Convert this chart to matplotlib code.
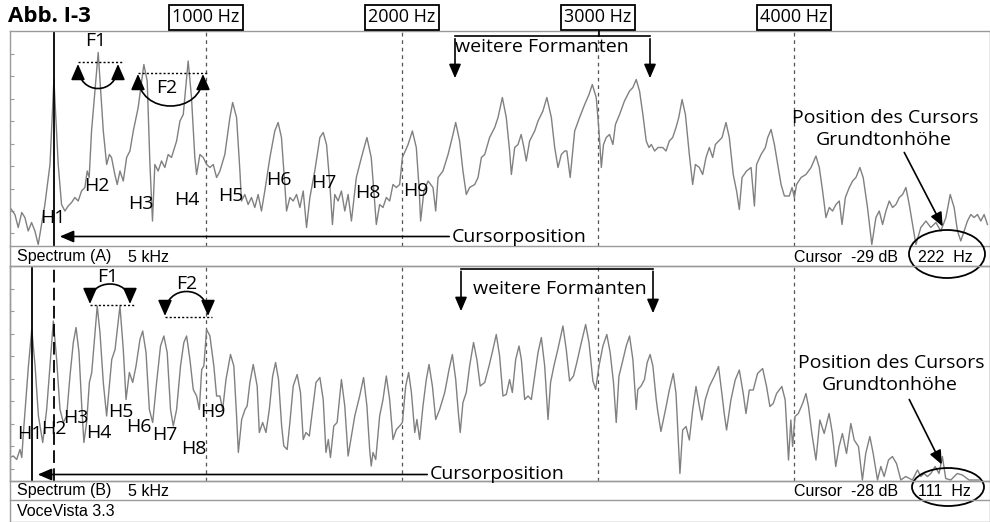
import numpy as np
import matplotlib
matplotlib.use("Agg")
import matplotlib.pyplot as plt
from matplotlib.patches import Ellipse, FancyArrowPatch
from matplotlib.path import Path
from matplotlib.transforms import blended_transform_factory

plt.rcParams['font.family'] = ['Open Sans', 'DejaVu Sans']

# spectrum A (cursor on 222 Hz): (frequency Hz, level dB)
spec_a = [(0,-35.3),(25,-36.7),(42,-39.3),(60,-36.3),(76,-37.3),(93,-40),(110,-38.3),(127,-40),(144,-42.7),
          (178,-34.7),(204,-26.7),(224,-9.7),(246,-26.7),(263,-34.7),(280,-36),(297,-35),(314,-34.3),(331,-33.3),
          (348,-34),(365,-32),(382,-31.3),(394,-28),(404,-29.3),(416,-20),(450,-4.3),(476,-20),(493,-26.7),
          (507,-24.7),(518,-25.3),(535,-28.7),(547,-30.7),(561,-28),(578,-30),(595,-25.3),(612,-24),(629,-20),
          (654,-15.3),(683,-6.7),(700,-10),(714,-26.7),(727,-38),(739,-26.7),(756,-28),(773,-26),(790,-27.3),
          (807,-24.7),(824,-25.3),(850,-22),(867,-18),(884,-16.7),(909,-6),(926,-13.3),(943,-25.3),(952,-28.7),
          (969,-24.7),(986,-25.3),(1003,-26.7),(1020,-27.3),(1037,-26.7),(1054,-29.3),(1071,-28),(1096,-24.7),
          (1122,-17.3),(1136,-14.3),(1156,-17.3),(1173,-28),(1181,-34),(1198,-32.7),(1215,-34.7),(1232,-33.3),
          (1249,-35.3),(1266,-32.7),(1283,-36),(1300,-32),(1326,-25.3),(1351,-20),(1368,-18.3),(1385,-21.3),
          (1402,-30.7),(1411,-36),(1428,-33.3),(1445,-34),(1462,-32.7),(1479,-35.3),(1496,-32),(1513,-39.3),
          (1530,-33.3),(1555,-28),(1581,-21.3),(1598,-20.3),(1615,-22.7),(1632,-30.7),(1645,-38.7),(1657,-32.7),
          (1674,-34),(1691,-32),(1708,-36),(1725,-32.7),(1742,-38),(1767,-29.3),(1793,-25.3),(1821,-21.3),
          (1843,-25.3),(1855,-31.3),(1869,-38.7),(1886,-34.7),(1903,-35.3),(1920,-33.3),(1937,-34),(1954,-30.7),
          (1971,-31.3),(1988,-30.7),(2002,-25.3),(2031,-22.7),(2053,-20),(2073,-23.3),(2087,-31.3),(2095,-38),
          (2112,-32),(2133,-30),(2158,-31.3),(2172,-36),(2184,-29.3),(2209,-28),(2235,-24.7),(2260,-20.7),
          (2274,-18.3),(2294,-22),(2311,-28),(2328,-32.7),(2345,-31.3),(2371,-30.7),(2388,-29.3),(2405,-25.3),
          (2422,-24.7),(2447,-21.3),(2473,-19.3),(2490,-17.3),(2512,-13.3),(2532,-17.3),(2549,-24),(2558,-28.7),
          (2575,-23.3),(2592,-22.7),(2608,-20.7),(2622,-23.3),(2634,-26),(2651,-22),(2677,-20),(2694,-18),
          (2719,-16),(2739,-13.3),(2762,-17.3),(2779,-23.3),(2796,-27.3),(2813,-24.7),(2830,-24),(2841,-24),
          (2858,-29.3),(2881,-20),(2906,-17.3),(2932,-14.7),(2954,-12.7),(2971,-10.7),(2991,-13.3),(3005,-20),
          (3017,-27.3),(3028,-22.7),(3042,-21.3),(3059,-20.7),(3076,-22.7),(3089,-18.7),(3110,-16.7),(3135,-14),
          (3161,-12),(3178,-11.3),(3195,-9.7),(3212,-12),(3229,-16.7),(3246,-22),(3260,-23.3),(3272,-22.7),
          (3289,-24),(3306,-23.3),(3330,-23.3),(3347,-24),(3364,-22),(3381,-21.3),(3398,-19.3),(3412,-17.3),
          (3429,-13.7),(3446,-16.7),(3466,-24.7),(3483,-30.7),(3497,-26.7),(3517,-27.3),(3534,-28.7),(3551,-25.3),
          (3568,-23.3),(3585,-25.3),(3599,-22.7),(3616,-22),(3633,-21.3),(3653,-18.3),(3670,-21.3),(3690,-28.7),
          (3707,-32),(3721,-35.7),(3735,-29.3),(3758,-28),(3781,-27.3),(3798,-35),(3809,-26.7),(3832,-24.7),
          (3854,-23.3),(3866,-21.3),(3883,-19.7),(3900,-22.7),(3917,-26.7),(3934,-30.7),(3951,-33),(3976,-33),
          (3990,-31.3),(4002,-33.3),(4013,-30.7),(4036,-29.3),(4061,-28.7),(4087,-27.3),(4112,-25),(4129,-27.3),
          (4146,-32),(4163,-37.3),(4180,-35.3),(4197,-36),(4214,-34.7),(4231,-34),(4245,-38.7),(4262,-33.3),
          (4282,-31.3),(4299,-30),(4316,-29.3),(4336,-27.3),(4353,-29.3),(4375,-35.3),(4397,-42.7),(4418,-37.3),
          (4435,-36),(4452,-38.7),(4469,-36),(4486,-34),(4503,-35.3),(4520,-34.7),(4537,-33.3),(4554,-32.7),
          (4571,-31.3),(4588,-34.7),(4605,-38.7),(4622,-42.7),(4647,-39.3),(4673,-38),(4698,-39.3),(4724,-38.3),
          (4749,-40),(4775,-37.3),(4797,-32.7),(4817,-35.3),(4834,-40),(4851,-42),(4868,-40),(4885,-38),
          (4902,-36.7),(4919,-37.3),(4936,-36.7),(4953,-38),(4970,-36.7),(4987,-38.7)]

# spectrum B (cursor on 111 Hz)
spec_b = [(0,-38.3),(17,-38),(34,-38.7),(51,-36.7),(60,-38.3),(71,-32),(94,-20),(111,-12.7),(128,-20),(145,-30),
          (167,-35.3),(187,-28.7),(204,-20),(221,-11),(238,-18.7),(255,-28.7),(272,-31.3),(289,-30),(306,-22),
          (323,-15.3),(337,-12.3),(352,-17.3),(366,-28),(377,-35.3),(391,-31.3),(405,-23.3),(417,-21.3),(434,-13.3),
          (445,-8),(459,-13.3),(476,-23.3),(493,-30),(507,-24),(519,-18.7),(536,-16.7),(561,-8),(578,-16.7),
          (592,-26.7),(609,-21.3),(626,-23.3),(643,-20),(663,-14.7),(677,-13),(694,-17.3),(711,-28.7),(728,-31.3),
          (748,-23.3),(768,-16),(785,-14),(802,-17.3),(819,-28.7),(833,-32),(850,-28.7),(870,-20),(887,-15.3),
          (901,-14),(918,-18.7),(935,-24.7),(952,-26),(966,-28.7),(978,-20.7),(989,-20),(1003,-12.7),(1020,-14),
          (1040,-20),(1054,-26),(1071,-26),(1085,-28.7),(1102,-22.7),(1125,-17.7),(1142,-20),(1156,-30),(1165,-37.3),
          (1182,-30.7),(1199,-28.7),(1210,-28),(1224,-23.3),(1241,-19.7),(1261,-24),(1272,-33.3),(1289,-31.3),
          (1306,-33.3),(1323,-28.7),(1340,-22),(1355,-19.3),(1370,-22.7),(1386,-32),(1397,-36),(1414,-36.7),
          (1428,-31.3),(1445,-24),(1465,-21.7),(1482,-25.3),(1496,-34.7),(1510,-33.3),(1527,-34),(1544,-28.7),
          (1561,-23.3),(1581,-22.3),(1598,-26.7),(1612,-37.3),(1624,-34.7),(1635,-38.3),(1652,-32),(1669,-31.3),
          (1691,-22.7),(1708,-28),(1725,-38),(1742,-34),(1759,-30),(1784,-26),(1804,-22.3),(1821,-28),(1835,-36.7),
          (1843,-40),(1852,-37.3),(1866,-38.7),(1886,-30),(1903,-26.7),(1920,-22),(1937,-26.7),(1954,-34.7),
          (1971,-32.7),(1988,-32),(2002,-31.3),(2019,-24),(2034,-21.3),(2048,-25.3),(2065,-33.3),(2076,-30.7),
          (2090,-34.7),(2107,-28),(2124,-22.7),(2138,-19.7),(2155,-24),(2172,-30.7),(2192,-28.7),(2218,-25.3),
          (2240,-20.7),(2257,-17.7),(2274,-22.7),(2286,-28.7),(2297,-33.3),(2311,-27.3),(2328,-25.3),(2345,-20),
          (2365,-15.3),(2382,-18.7),(2399,-24),(2422,-23.3),(2444,-20),(2464,-16.7),(2481,-13.7),(2498,-18),
          (2515,-26),(2532,-25.7),(2549,-22.7),(2563,-25.3),(2580,-18.7),(2597,-16),(2609,-18.7),(2626,-26.7),
          (2643,-26),(2660,-26.7),(2677,-22),(2694,-17.3),(2711,-14.3),(2728,-20),(2745,-30.7),(2758,-23.3),
          (2775,-20),(2795,-16.7),(2821,-12),(2838,-16.7),(2855,-23),(2875,-22),(2892,-19.3),(2915,-15.3),
          (2937,-11.7),(2954,-15.3),(2974,-23),(2988,-24.7),(3005,-20),(3025,-16),(3045,-13.7),(3062,-17.3),
          (3079,-23.3),(3093,-31.3),(3107,-22),(3124,-19.3),(3144,-16),(3161,-14),(3178,-18.7),(3195,-28.7),
          (3203,-24.7),(3220,-24),(3237,-22.7),(3251,-19.3),(3266,-17.7),(3280,-20),(3297,-26.7),(3304,-28.8),
          (3321,-33.1),(3344,-28.8),(3364,-24.8),(3384,-21.5),(3398,-25.5),(3418,-41.5),(3432,-32.8),(3449,-32.1),
          (3466,-34.8),(3483,-28.8),(3500,-24.1),(3517,-28.1),(3530,-30.8),(3547,-26.8),(3568,-24.1),(3593,-22.1),
          (3615,-20.1),(3632,-25.5),(3644,-29.5),(3656,-32.8),(3678,-26.8),(3700,-22.8),(3721,-20.8),(3741,-25.5),
          (3755,-29.5),(3772,-24.8),(3792,-24.8),(3814,-21.5),(3840,-20.5),(3860,-24.1),(3877,-28.1),(3894,-27.5),
          (3911,-25.5),(3938,-24.1),(3955,-26.8),(3972,-38.8),(3984,-30.8),(3993,-36.1),(4005,-30.1),(4022,-29.5),
          (4044,-27.5),(4061,-25.5),(4074,-28.1),(4091,-33.5),(4112,-38.8),(4132,-30.8),(4154,-33.5),(4179,-29.5),
          (4196,-33.5),(4213,-40.1),(4230,-36.1),(4247,-33.5),(4268,-37.5),(4290,-31.5),(4307,-34.8),(4329,-36.1),
          (4349,-42.8),(4366,-37.5),(4387,-34.1),(4404,-37.5),(4426,-42.8),(4443,-40.1),(4460,-42.1),(4482,-38.8),
          (4502,-38.1),(4523,-39.5),(4545,-42.8),(4570,-42.1),(4604,-42.8),(4630,-40.8),(4647,-42.1),(4664,-41.5),
          (4681,-42.1),(4698,-41.5),(4720,-40.1),(4740,-41.5),(4757,-38.1),(4774,-42.5),(4800,-42.8),(4833,-41.5),
          (4859,-41.8),(4893,-42.8),(4944,-42.8)]

grid_hz = [1000, 2000, 3000, 4000]
grid_labels = ["1000 Hz", "2000 Hz", "3000 Hz", "4000 Hz"]
cursor_hz = [222, 111]
cursor_db = [-29, -28]
harm_labels = ["H1", "H2", "H3", "H4", "H5", "H6", "H7", "H8", "H9"]

W, H = 990, 522
fig = plt.figure(figsize=(W / 100, H / 100), dpi=100)
GRAY = "#9a9a9a"

def panel(top):
    ax = fig.add_axes([10 / W, (H - top - 215) / H, 980 / W, 215 / H])
    ax.set_xlim(0, 5000)
    ax.set_ylim(-43, 0)
    for s in ax.spines.values():
        s.set_color(GRAY)
        s.set_linewidth(1.0)
    ax.set_xticks([])
    ax.set_yticks(np.arange(-4.5, -43, -4.5))
    ax.tick_params(axis='y', direction='in', length=3, color=GRAY, labelleft=False)
    for f in grid_hz:
        ax.axvline(f, color="#555555", lw=0.9, ls=(0, (3, 3)))
    return ax

ax_a = panel(31)
ax_b = panel(266)

fa, la = zip(*spec_a)
fb, lb = zip(*spec_b)
ax_a.plot(fa, la, color="#808080", lw=1.0)
ax_b.plot(fb, lb, color="#808080", lw=1.0)

ax_a.axvline(cursor_hz[0], color="black", lw=1.3)
ax_b.axvline(cursor_hz[1], color="black", lw=1.3)
ax_b.axvline(cursor_hz[0], color="black", lw=1.3, ls=(0, (7, 3)))

# overlay in pixel coords (origin top-left)
ov = fig.add_axes([0, 0, 1, 1], zorder=5)
ov.set_xlim(0, W)
ov.set_ylim(H, 0)
ov.axis('off')
ov.patch.set_visible(False)

# status bars / frame
for y in [266, 481, 500, 521.5]:
    ov.plot([10, 990], [y, y], color=GRAY, lw=1.0)
ov.plot([10, 10], [246, 522], color=GRAY, lw=1.0)
ov.plot([989.5, 989.5], [246, 522], color=GRAY, lw=1.0)

sfont = dict(family="Liberation Sans", fontsize=11.5, va="center")
ov.text(17, 257, "Spectrum (A)", **sfont)
ov.text(128, 257, "5 kHz", **sfont)
ov.text(17, 491, "Spectrum (B)", **sfont)
ov.text(128, 491, "5 kHz", **sfont)
ov.text(17, 511, "VoceVista 3.3", **sfont)
ov.text(794, 257, f"Cursor  {cursor_db[0]} dB", **sfont)
ov.text(918, 257, f"{cursor_hz[0]}  Hz", **sfont)
ov.text(794, 491, f"Cursor  {cursor_db[1]} dB", **sfont)
ov.text(918, 491, f"{cursor_hz[1]}  Hz", **sfont)
ov.add_patch(Ellipse((947, 254), 76, 48, fill=False, ec="black", lw=1.3))
ov.add_patch(Ellipse((948, 487), 72, 38, fill=False, ec="black", lw=1.3))

# title and frequency boxes
ov.text(8, 17, "Abb. I-3", fontsize=16, fontweight="bold", va="center", ha="left")
bt = blended_transform_factory(ax_a.transData, ov.transData)
for f, lab in zip(grid_hz, grid_labels):
    ov.text(f, 17.5, lab, transform=bt, ha="center", va="center", fontsize=13,
            bbox=dict(boxstyle="square,pad=0.2", fc="white", ec="black", lw=1.3))
ov.plot([599, 599], [29, 36], color="black", lw=1.2)

tfont = dict(fontsize=14, ha="center", va="center")
head = dict(arrowstyle="-|>,head_length=0.7,head_width=0.3", color="black", lw=1.2, mutation_scale=12)

# harmonic labels
pos_a = [(53, 218), (97, 186), (141, 204), (187, 200), (231, 196), (279, 180), (324, 183), (368, 193), (416, 191)]
pos_b = [(30, 434), (54, 429), (76, 418), (99, 433), (121, 412), (139, 427), (165, 435), (194, 449), (213, 412)]
for lab, (x, y) in zip(harm_labels, pos_a):
    ov.text(x, y, lab, **tfont)
for lab, (x, y) in zip(harm_labels, pos_b):
    ov.text(x, y, lab, **tfont)

# formant arcs
def arc(x0, x1, y_tip, y_ctrl, line_y):
    p = Path([(x0, y_tip), (x0, y_ctrl), (x1, y_ctrl), (x1, y_tip)],
             [Path.MOVETO, Path.CURVE4, Path.CURVE4, Path.CURVE4])
    ov.add_patch(FancyArrowPatch(path=p, arrowstyle="<|-|>,head_length=0.8,head_width=0.35",
                                 color="black", lw=1.2, mutation_scale=12))
    ov.plot([x0, x1 + 4], [line_y, line_y], color="black", lw=1.0, ls=(0, (1.5, 1.5)))

arc(78, 118, 64, 96, 62)
ov.text(96, 41, "F1", **tfont)
arc(138, 203, 74, 116, 73)
ov.text(167, 88, "F2", **tfont)
arc(90, 130, 304, 278, 305)
ov.text(108, 277, "F1", **tfont)
arc(165, 208, 316, 284, 317)
ov.text(187, 284, "F2", **tfont)

# weitere Formanten brackets
ov.plot([455, 650], [36, 36], color="black", lw=1.2)
ov.add_patch(FancyArrowPatch((455, 36), (455, 81), **head))
ov.add_patch(FancyArrowPatch((650, 36), (650, 81), **head))
ov.text(455, 47, "weitere Formanten", fontsize=14, ha="left", va="center")
ov.plot([461, 653], [268.5, 268.5], color="black", lw=1.2)
ov.add_patch(FancyArrowPatch((461, 268.5), (461, 314), **head))
ov.add_patch(FancyArrowPatch((653, 268.5), (653, 316), **head))
ov.text(473, 289, "weitere Formanten", fontsize=14, ha="left", va="center")

# cursor position arrows
ov.add_patch(FancyArrowPatch((452, 236.5), (57, 236.5), **head))
ov.text(452, 242, "Cursorposition", fontsize=14, ha="left", va="baseline")
ov.add_patch(FancyArrowPatch((430, 474.5), (35, 474.5), **head))
ov.text(430, 479, "Cursorposition", fontsize=14, ha="left", va="baseline")

# pitch position notes
ov.text(885, 118, "Position des Cursors", **tfont)
ov.text(884, 140, "Grundtonhöhe", **tfont)
ov.add_patch(FancyArrowPatch((903, 150), (944, 229), **head))
ov.text(891, 363, "Position des Cursors", **tfont)
ov.text(890, 385, "Grundtonhöhe", **tfont)
ov.add_patch(FancyArrowPatch((908, 397), (943, 467), **head))

fig.savefig("out.png", dpi=100)
